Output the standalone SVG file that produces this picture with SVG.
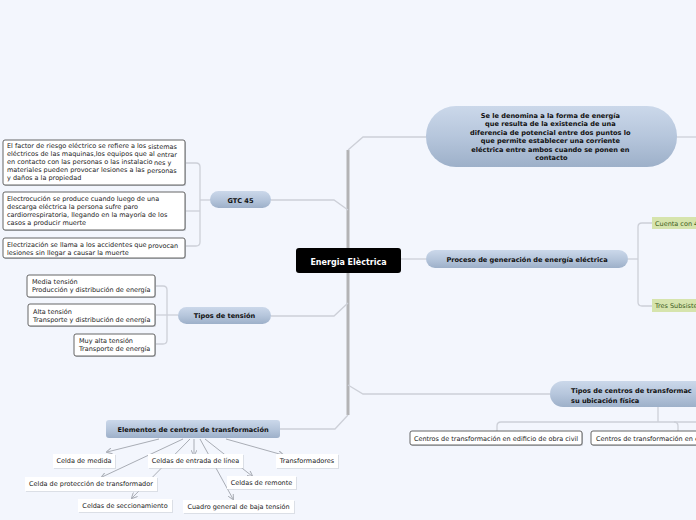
<svg xmlns="http://www.w3.org/2000/svg" width="696" height="520" viewBox="0 0 696 520">
<defs>
<linearGradient id="g" x1="0" y1="0" x2="0" y2="1">
<stop offset="0" stop-color="#cbd8ea"/>
<stop offset="0.5" stop-color="#b6c6dc"/>
<stop offset="1" stop-color="#9db0c9"/>
</linearGradient>
<marker id="ar" viewBox="0 0 6 6" refX="5" refY="3" markerWidth="6" markerHeight="6" orient="auto" markerUnits="userSpaceOnUse">
<path d="M0,0 L6,3 L0,6" fill="none" stroke="#a9adb5" stroke-width="1"/>
</marker>
</defs>
<style>
.t{font-family:"DejaVu Sans",Verdana,sans-serif;font-size:6.5px;fill:#222}
.b{font-family:"DejaVu Sans",Verdana,sans-serif;font-size:6.6px;font-weight:bold;fill:#111}
.c{fill:none;stroke:#cdd0d8;stroke-width:1.3}
.sp{fill:none;stroke:#b3b3b5;stroke-width:3}
.a{fill:none;stroke:#a9adb5;stroke-width:1;marker-end:url(#ar)}
.box{fill:#fff;stroke:#555;stroke-width:0.9}
.sh{fill:#c4c8cf}
.lab{fill:#fff}
.nd{fill:url(#g)}
.gr{fill:#d6e4ad}
.gt{font-family:"DejaVu Sans",Verdana,sans-serif;font-size:6.5px;fill:#3d5a1c}
</style>
<rect width="696" height="520" fill="#f3f6fd"/>

<g id="connectors">
<path class="sp" d="M348,150 L348,415"/>
<path class="c" d="M348,150 L363,137 L426,137"/>
<path class="c" d="M677,137 L696,137"/>
<path class="c" d="M271,200 L334,200 L348,210"/>
<path class="c" d="M271,316 L334,316 L348,303"/>
<path class="c" d="M348,385 L363,394 L550,394"/>
<path class="c" d="M348,415 L335,429 L280,429"/>
<path class="c" d="M401,259 L426,259"/>
<path class="c" d="M628,259 L638,259"/>
<path class="c" d="M652,223 L642,223 Q638,223 638,227 L638,302 Q638,306 642,306 L652,306"/>
<path class="c" d="M185,163 L196,163 Q200,163 200,167 L200,242 Q200,246 196,246 L186,246"/>
<path class="c" d="M186,211 L200,211"/>
<path class="c" d="M200,200 L210,200"/>
<path class="c" d="M155,286 L163,286 Q167,286 167,290 L167,340 Q167,344 163,344 L155,344"/>
<path class="c" d="M155,315 L178,315"/>
<path class="c" d="M658,407 L658,422"/>
<path class="c" d="M497,431 L497,426 Q497,422 501,422 L696,422"/>
<path class="c" d="M678,431 L678,426 Q678,422 674,422"/>
<path class="a" d="M159,439 L107,452"/>
<path class="a" d="M183,439 L102,477"/>
<path class="a" d="M190,439 L132,498"/>
<path class="a" d="M194,439 L194,455"/>
<path class="a" d="M200,439 L233,499"/>
<path class="a" d="M205,439 L252,476"/>
<path class="a" d="M226,439 L283,455"/>
</g>

<g id="n-central">
<rect x="296" y="248" width="105" height="25" rx="3" fill="#000"/>
<text x="348.5" y="264.5" text-anchor="middle" font-family="DejaVu Sans,Verdana,sans-serif" font-size="8" font-weight="bold" fill="#fff">Energia Elèctrica</text>
</g>

<g id="n-def">
<rect x="426" y="106" width="251" height="61" rx="30" class="nd"/>
<text class="b" text-anchor="middle" font-size="6.5">
<tspan x="551.5" y="117.5">Se le denomina a la forma de energía</tspan>
<tspan x="551.5" y="126">que resulta de la existencia de una</tspan>
<tspan x="551.5" y="134.5">diferencia de potencial entre dos puntos lo</tspan>
<tspan x="551.5" y="143">que permite establecer una corriente</tspan>
<tspan x="551.5" y="151.5">eléctrica entre ambos cuando se ponen en</tspan>
<tspan x="551.5" y="160">contacto</tspan>
</text>
</g>

<g id="n-proceso">
<rect x="426" y="250" width="202" height="18" rx="9" class="nd"/>
<text class="b" x="527" y="261.5" text-anchor="middle">Proceso de generación de energía eléctrica</text>
</g>

<g id="n-cuenta">
<rect x="652" y="217" width="50" height="12" class="gr"/>
<text class="gt" x="655" y="225.5">Cuenta con 4</text>
</g>

<g id="n-tres">
<rect x="652" y="299" width="50" height="13" class="gr"/>
<text class="gt" x="655" y="308">Tres Subsiste</text>
</g>

<g id="n-tiposcentros">
<rect x="550" y="381" width="170" height="26" rx="13" class="nd"/>
<text class="b">
<tspan x="571" y="393">Tipos de centros de transformac</tspan>
<tspan x="571" y="402.5">su ubicación física</tspan>
</text>
</g>

<g id="n-obra">
<rect x="411" y="432" width="172" height="14" rx="2" class="sh"/>
<rect x="410" y="431" width="172" height="14" rx="2" class="box"/>
<text class="t" x="496" y="440.5" text-anchor="middle">Centros de transformación en edificio de obra civil</text>
</g>

<g id="n-centros2">
<rect x="592" y="432" width="120" height="14" rx="2" class="sh"/>
<rect x="591" y="431" width="120" height="14" rx="2" class="box"/>
<text class="t" x="596" y="440.5">Centros de transformación en e</text>
</g>

<g id="n-gtc">
<rect x="210" y="191" width="61" height="17" rx="8.5" class="nd"/>
<text class="b" x="240.5" y="202.5" text-anchor="middle">GTC 45</text>
</g>

<g id="n-factor">
<rect x="4" y="141" width="182" height="45" rx="2" class="sh"/>
<rect x="3" y="140" width="182" height="45" rx="2" class="box"/>
<text class="t">
<tspan x="7" y="147.5">El factor de riesgo eléctrico se refiere a los </tspan><tspan x="148" y="149">sistemas</tspan>
<tspan x="7" y="155.5">eléctricos de las maquinas,los equipos que al </tspan><tspan x="157" y="157">entrar</tspan>
<tspan x="7" y="163.5">en contacto con las personas o las instalacio</tspan><tspan x="154" y="165">nes y</tspan>
<tspan x="7" y="171.5">materiales pueden provocar lesiones a las </tspan><tspan x="147" y="173">personas</tspan>
<tspan x="7" y="179.5">y daños a la propiedad</tspan>
</text>
</g>

<g id="n-electrocucion">
<rect x="4" y="193" width="182" height="38" rx="2" class="sh"/>
<rect x="3" y="192" width="182" height="38" rx="2" class="box"/>
<text class="t">
<tspan x="7" y="200.5">Electrocución se produce cuando luego de una</tspan>
<tspan x="7" y="208.5">descarga eléctrica la persona sufre paro</tspan>
<tspan x="7" y="216.5">cardiorrespiratoria, llegando en la mayoría de los</tspan>
<tspan x="7" y="224.5">casos a producir muerte</tspan>
</text>
</g>

<g id="n-electrizacion">
<rect x="4" y="239" width="182" height="20" rx="2" class="sh"/>
<rect x="3" y="238" width="182" height="20" rx="2" class="box"/>
<text class="t">
<tspan x="7" y="246.5">Electrización se llama a los accidentes que </tspan><tspan x="148" y="248">provocan</tspan>
<tspan x="7" y="255">lesiones sin llegar a causar la muerte</tspan>
</text>
</g>

<g id="n-tiposten">
<rect x="178" y="307" width="93" height="17" rx="8.5" class="nd"/>
<text class="b" x="224.5" y="318.3" text-anchor="middle">Tipos de tensión</text>
</g>

<g id="n-media">
<rect x="28" y="276" width="128" height="22" rx="2" class="sh"/>
<rect x="27" y="275" width="128" height="22" rx="2" class="box"/>
<text class="t"><tspan x="32" y="284">Media tensión</tspan><tspan x="32" y="292.3">Producción y distribución de energía</tspan></text>
</g>

<g id="n-alta">
<rect x="29" y="305" width="127" height="22" rx="2" class="sh"/>
<rect x="28" y="304" width="127" height="22" rx="2" class="box"/>
<text class="t"><tspan x="33" y="314">Alta tensión</tspan><tspan x="33" y="322.3">Transporte y distribución de energía</tspan></text>
</g>

<g id="n-muyalta">
<rect x="75" y="335" width="81" height="22" rx="2" class="sh"/>
<rect x="74" y="334" width="81" height="22" rx="2" class="box"/>
<text class="t"><tspan x="79" y="343">Muy alta tensión</tspan><tspan x="79" y="351.3">Transporte de energía</tspan></text>
</g>

<g id="n-elementos">
<rect x="106" y="420" width="174" height="18" rx="3" class="nd"/>
<text class="b" x="193" y="431.5" text-anchor="middle">Elementos de centros de transformación</text>
</g>

<g id="n-medida">
<rect x="54" y="455" width="62" height="14" class="sh" opacity="0.5"/>
<rect x="53" y="454" width="62" height="14" class="lab"/>
<text class="t" x="84" y="463.3" text-anchor="middle">Celda de medida</text>
</g>

<g id="n-entrada">
<rect x="149" y="455" width="95" height="14" class="sh" opacity="0.5"/>
<rect x="148" y="454" width="95" height="14" class="lab"/>
<text class="t" x="195.5" y="463.3" text-anchor="middle">Celdas de entrada de línea</text>
</g>

<g id="n-transformadores">
<rect x="277" y="455" width="62" height="14" class="sh" opacity="0.5"/>
<rect x="276" y="454" width="62" height="14" class="lab"/>
<text class="t" x="307" y="463.3" text-anchor="middle">Transformadores</text>
</g>

<g id="n-proteccion">
<rect x="26" y="478" width="132" height="14" class="sh" opacity="0.5"/>
<rect x="25" y="477" width="132" height="14" class="lab"/>
<text class="t" x="91" y="486.3" text-anchor="middle">Celda de protección de transformador</text>
</g>

<g id="n-remonte">
<rect x="228" y="477" width="69" height="13" class="sh" opacity="0.5"/>
<rect x="227" y="476" width="69" height="13" class="lab"/>
<text class="t" x="261.5" y="485" text-anchor="middle">Celdas de remonte</text>
</g>

<g id="n-seccionamiento">
<rect x="79" y="500" width="94" height="13" class="sh" opacity="0.5"/>
<rect x="78" y="499" width="94" height="13" class="lab"/>
<text class="t" x="125" y="508" text-anchor="middle">Celdas de seccionamiento</text>
</g>

<g id="n-cuadro">
<rect x="184" y="501" width="111" height="13" class="sh" opacity="0.5"/>
<rect x="183" y="500" width="111" height="13" class="lab"/>
<text class="t" x="238.5" y="509" text-anchor="middle">Cuadro general de baja tensión</text>
</g>
</svg>
